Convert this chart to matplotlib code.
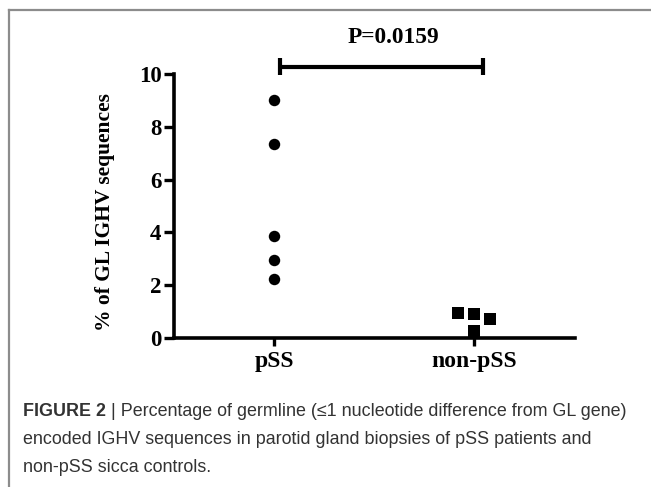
import matplotlib
matplotlib.use("Agg")
import matplotlib.pyplot as plt
from matplotlib.lines import Line2D

categories = ["pSS", "non-pSS"]
pss_values = [9.0, 7.35, 3.85, 2.95, 2.25]
nonpss_values = [0.96, 0.91, 0.73, 0.27]
nonpss_offsets = [-0.08, 0.0, 0.08, 0.0]
y_ticks = [0, 2, 4, 6, 8, 10]
p_text = "P=0.0159"
caption_bold = "FIGURE 2"
caption_lines = [
    " | Percentage of germline (\u22641 nucleotide difference from GL gene)",
    "encoded IGHV sequences in parotid gland biopsies of pSS patients and",
    "non-pSS sicca controls.",
]

W, H = 651, 487
fig = plt.figure(figsize=(W / 100, H / 100), dpi=100)
serif = "Liberation Serif"

ax = fig.add_axes([174 / W, 1 - 338 / H, (575 - 174) / W, (338 - 74) / H])
ax.set_xlim(0.5, 2.505)
ax.set_ylim(0, 10)

ax.scatter([1] * len(pss_values), pss_values, s=68, marker="o", color="black",
           zorder=3, clip_on=False, linewidths=0)
ax.scatter([2 + o for o in nonpss_offsets], nonpss_values, s=63, marker="s",
           color="black", zorder=3, clip_on=False, linewidths=0)

for side in ["top", "right"]:
    ax.spines[side].set_visible(False)
for side in ["left", "bottom"]:
    ax.spines[side].set_linewidth(2.6)
ax.spines["left"].set_bounds(0, 10)

ax.set_yticks(y_ticks)
ax.set_yticklabels([str(t) for t in y_ticks], fontfamily=serif,
                   fontweight="bold", fontsize=16.5)
ax.set_xticks([1, 2])
ax.set_xticklabels(categories, fontfamily=serif, fontweight="bold", fontsize=17)
ax.tick_params(axis="y", length=7, width=2.4, pad=2)
ax.tick_params(axis="x", length=6, width=2.4, pad=3)
ax.set_ylabel("% of GL IGHV sequences", fontfamily=serif, fontweight="bold",
              fontsize=15.5, labelpad=17)
ax.yaxis.label.set_y(0.478)

# significance bracket
yb = 10.27
ax.plot([1.03, 2.045], [yb, yb], color="black", lw=3, clip_on=False,
        solid_capstyle="butt")
for xe in [1.03, 2.045]:
    ax.plot([xe, xe], [yb - 0.32, yb + 0.32], color="black", lw=3,
            clip_on=False, solid_capstyle="butt")
ax.text(1.595, 11.38, p_text, ha="center", va="center", fontfamily=serif,
        fontweight="bold", fontsize=16.8)

# frame lines
fig.add_artist(Line2D([8.5 / W, 1], [1 - 10 / H, 1 - 10 / H], color="#8c8c8c",
                      lw=1.6, transform=fig.transFigure))
fig.add_artist(Line2D([8.5 / W, 8.5 / W], [0, 1 - 10 / H], color="#8c8c8c",
                      lw=1.6, transform=fig.transFigure))

# caption
cap_color = "#333333"
cap_font = "Liberation Sans"
cap_size = 12.9
x0 = 23 / W
ys = [411, 440, 467]
tb = fig.text(x0, 1 - ys[0] / H, caption_bold, fontfamily=cap_font,
              fontweight="bold", fontsize=cap_size, color=cap_color, va="center")
fig.canvas.draw()
bb = tb.get_window_extent()
x1 = bb.x1 / W
fig.text(x1, 1 - ys[0] / H, caption_lines[0], fontfamily=cap_font,
         fontsize=cap_size, color=cap_color, va="center")
for line, y in zip(caption_lines[1:], ys[1:]):
    fig.text(x0, 1 - y / H, line, fontfamily=cap_font, fontsize=cap_size,
             color=cap_color, va="center")

fig.savefig("out.png", dpi=100)
